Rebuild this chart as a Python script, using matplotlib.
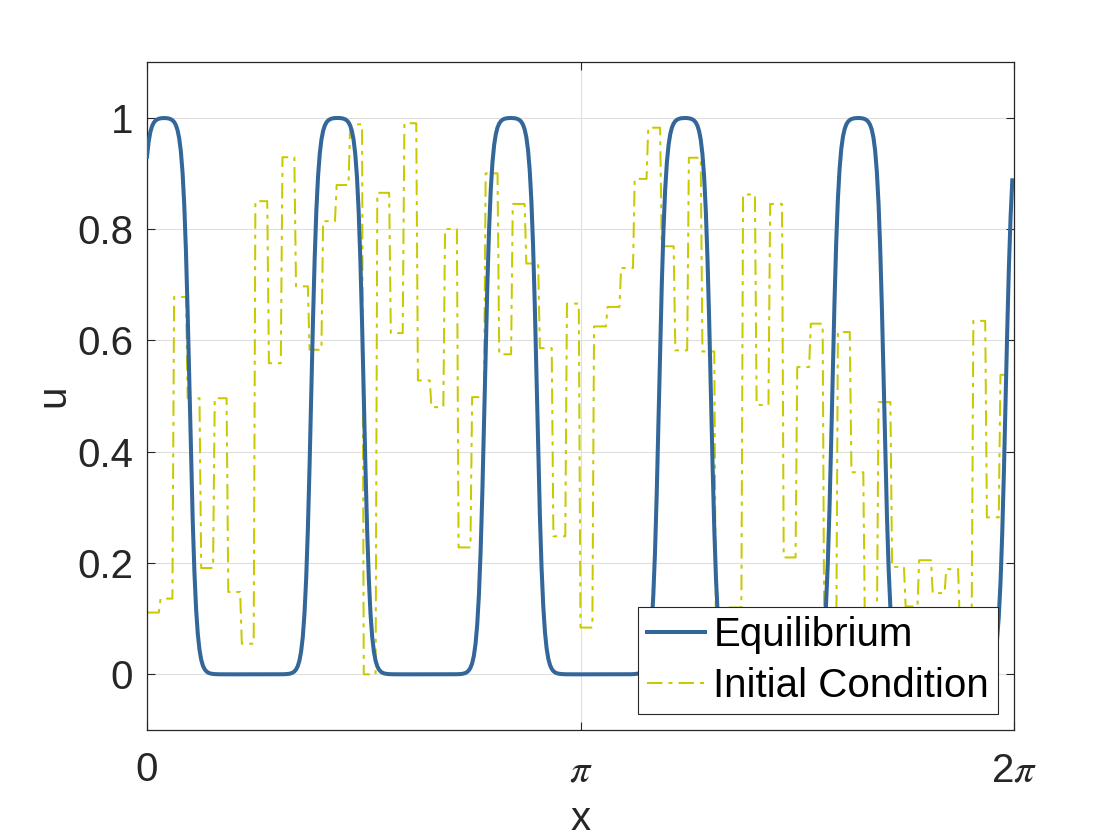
"""Equilibrium profile vs. piecewise-constant initial condition (Allen-Cahn style run)."""
import matplotlib
matplotlib.use("Agg")
import matplotlib.pyplot as plt
import numpy as np

# solver grid: periodic on [0, 2*pi), endpoint left out
N_GRID = 512
CELLS_PER_STEP = 8

# initial condition, one value per block of grid points (64 blocks)
initial_values = [
    0.111, 0.136, 0.678, 0.496, 0.191, 0.496, 0.148, 0.055,
    0.850, 0.559, 0.929, 0.697, 0.583, 0.814, 0.879, 0.988,
    0.000, 0.865, 0.613, 0.990, 0.528, 0.480, 0.800, 0.228,
    0.498, 0.900, 0.575, 0.845, 0.738, 0.586, 0.248, 0.666,
    0.084, 0.625, 0.660, 0.730, 0.890, 0.982, 0.769, 0.582,
    0.928, 0.580, 0.050, 0.120, 0.862, 0.484, 0.845, 0.210,
    0.552, 0.630, 0.030, 0.615, 0.363, 0.070, 0.489, 0.193,
    0.122, 0.205, 0.146, 0.189, 0.090, 0.635, 0.282, 0.538,
]

# equilibrium: where u crosses 0.5 going up / going down, and interface width
rise_x = [-0.060, 1.190, 2.447, 3.711, 4.966, 6.223]
fall_x = [0.309, 1.571, 2.826, 4.087, 5.341, 6.592]
interface_width = 0.0464

x_ticks = [0, np.pi, 2 * np.pi]
x_tick_labels = ["0", r"$\pi$", r"2$\pi$"]
y_ticks = [0, 0.2, 0.4, 0.6, 0.8, 1.0]
y_tick_labels = ["0", "0.2", "0.4", "0.6", "0.8", "1"]

COLORS = {
    "Equilibrium": "#336699",
    "Initial Condition": "#c9c900",
    "axes": "#262626",
    "grid": "#dfdfdf",
}

plt.rcParams.update({
    "font.family": ["Liberation Sans", "DejaVu Sans"],
    "font.size": 29,
    "mathtext.fontset": "custom",
    "mathtext.rm": "Liberation Sans",
    "mathtext.it": "STIXGeneral:italic",
    "mathtext.bf": "Liberation Sans:bold",
})

x = np.arange(N_GRID) * 2 * np.pi / N_GRID
u0 = np.repeat(initial_values, CELLS_PER_STEP)

u_eq = np.zeros_like(x)
for r, f in zip(rise_x, fall_x):
    u_eq += 0.5 * (np.tanh((x - r) / interface_width) - np.tanh((x - f) / interface_width))

fig = plt.figure(figsize=(11.2, 8.4), dpi=100)
ax = fig.add_axes([147 / 1120, 110 / 840, 867 / 1120, 668 / 840])

ax.plot(x, u_eq, color=COLORS["Equilibrium"], linewidth=2.9, label="Equilibrium", zorder=3)
ax.plot(x, u0, color=COLORS["Initial Condition"], linewidth=1.44,
        dashes=(7.75, 3, 2, 3), label="Initial Condition", zorder=2)

ax.set_xlim(0, 2 * np.pi)
ax.set_ylim(-0.1, 1.1)
ax.set_xticks(x_ticks)
ax.set_xticklabels(x_tick_labels)
ax.set_yticks(y_ticks)
ax.set_yticklabels(y_tick_labels)
for lab in ax.get_xticklabels():
    lab.set_va("baseline")

ax.tick_params(direction="in", length=5.5, width=0.8, top=True, right=True,
               colors=COLORS["axes"], labelsize=29)
ax.tick_params(axis="x", pad=37)
ax.tick_params(axis="y", pad=10)
for sp in ax.spines.values():
    sp.set_color(COLORS["axes"])
    sp.set_linewidth(0.9)

ax.grid(True, color=COLORS["grid"], linewidth=0.8)
ax.set_axisbelow(True)

ax.set_xlabel("x", color=COLORS["axes"], fontsize=29)
ax.xaxis.label.set_va("baseline")
ax.xaxis.set_label_coords(0.5, (730 - 830) / 668)
ax.set_ylabel("u", color=COLORS["axes"], fontsize=29)
ax.yaxis.label.set_va("center")
ax.yaxis.set_label_coords((53 - 147) / 867, 0.5)

leg = ax.legend(loc="lower right", fontsize=29, frameon=True, fancybox=False,
                framealpha=1.0, edgecolor=COLORS["axes"], borderaxespad=0.4,
                handlelength=1.45, handletextpad=0.2, borderpad=0.22, labelspacing=0.32)
leg.get_frame().set_linewidth(0.8)

fig.savefig("out.png", dpi=100)
plt.close(fig)
